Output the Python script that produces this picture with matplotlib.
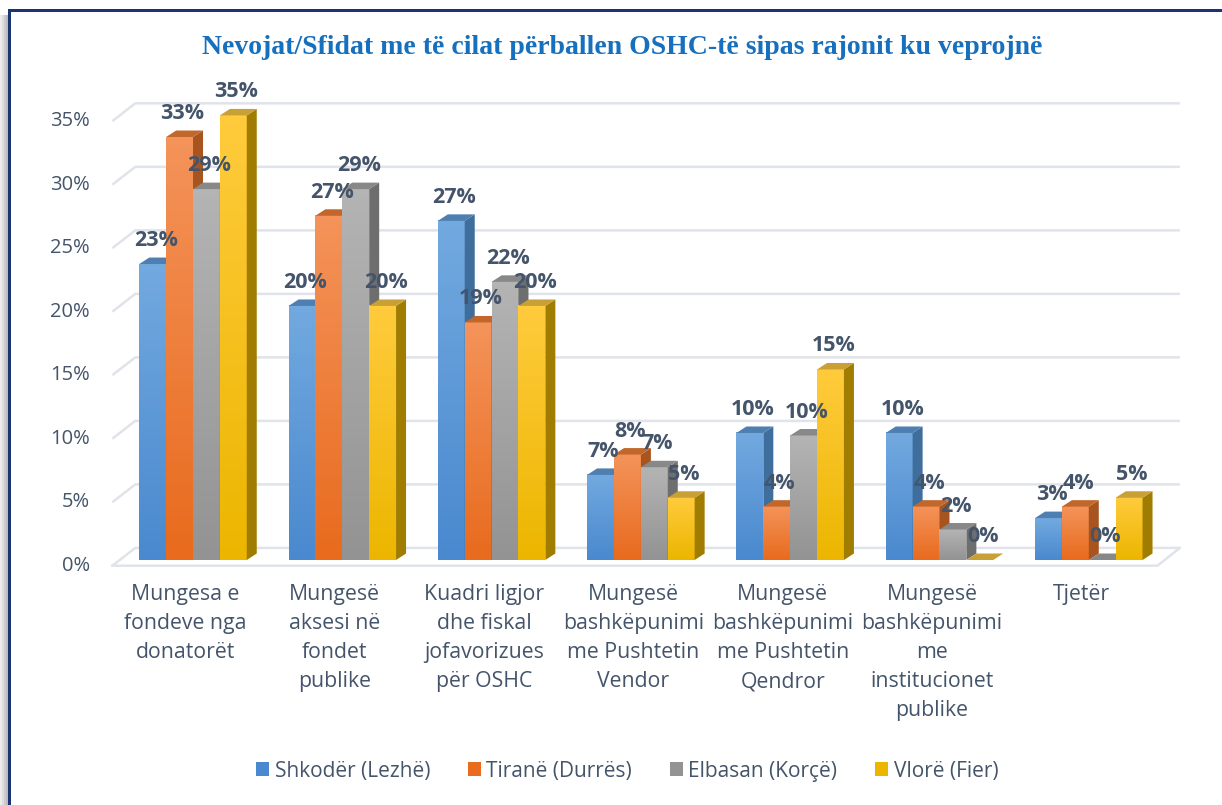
import numpy as np
import matplotlib
matplotlib.use('Agg')
import matplotlib.pyplot as plt
from matplotlib.patches import Polygon, Rectangle, Patch
from matplotlib.colors import LinearSegmentedColormap

# dane
categories = ['Mungesa e\nfondeve nga\ndonatorët',
              'Mungesë\naksesi në\nfondet\npublike',
              'Kuadri ligjor\ndhe fiskal\njofavorizues\npër OSHC',
              'Mungesë\nbashkëpunimi\nme Pushtetin\nVendor',
              'Mungesë\nbashkëpunimi\nme Pushtetin\nQendror',
              'Mungesë\nbashkëpunimi\nme\ninstitucionet\npublike',
              'Tjetër']
series = ['Shkodër (Lezhë)', 'Tiranë (Durrës)', 'Elbasan (Korçë)', 'Vlorë (Fier)']
shkoder = [23.3, 20.0, 26.7, 6.7, 10.0, 10.0, 3.3]
tirane = [33.3, 27.1, 18.7, 8.3, 4.2, 4.2, 4.2]
elbasan = [29.2, 29.2, 21.9, 7.3, 9.8, 2.4, 0.0]
vlore = [35.0, 20.0, 20.0, 4.9, 15.0, 0.0, 4.9]
yticks = [0, 5, 10, 15, 20, 25, 30, 35]

values = [shkoder, tirane, elbasan, vlore]
# colors: (top of gradient, bottom of gradient, side, top face)
cols = [('#72A9DF', '#4A89CF', '#3F6D9C', '#4E7FB0'),
        ('#F4935A', '#E86B1E', '#A8541F', '#C1672C'),
        ('#B4B4B4', '#939393', '#6E6E6E', '#888888'),
        ('#FFCB3C', '#ECB600', '#A07D00', '#C9A035')]
txt_col = '#44546A'
grid_col = '#E0E3EA'

plt.rcParams['font.family'] = ['Open Sans', 'DejaVu Sans']

W, H = 1222, 805
fig = plt.figure(figsize=(W / 100, H / 100), dpi=100)
ax = fig.add_axes([100 / W, 225 / H, 1090 / W, 490 / H])
ax.set_xlim(-0.623, 6.678)
ax.set_ylim(-1.575, 37.0)
ax.axis('off')

# 3d offsets
bw = 0.18
ddx, ddy = 0.067, 0.51
gx0, gx1 = -0.54, -0.387
gxr0, gxr1 = 6.46, 6.61
gf, gb = -0.45, 0.95

for v in yticks:
    ax.plot([gx0, gx1, gxr1], [v + gf, v + gb, v + gb], color=grid_col, lw=1.8,
            solid_capstyle='butt', zorder=1)
    ax.text(-0.69, v + gf, '%d%%' % v, ha='right', va='center', fontsize=14.5,
            color=txt_col)
ax.plot([gx0, gxr0, gxr1], [gf, gf, gb], color=grid_col, lw=1.8, zorder=1)

x = np.arange(len(categories))
z = 2
for j, vals in enumerate(values):
    c_top, c_bot, c_side, c_cap = cols[j]
    cmap = LinearSegmentedColormap.from_list('g%d' % j, [c_bot, c_top])
    xs = x - 2 * bw + j * bw
    bars = ax.bar(xs, vals, width=bw, align='edge', color=c_bot, zorder=z + j * 3)
    for b in bars:
        x0, w, h = b.get_x(), b.get_width(), b.get_height()
        zz = b.get_zorder()
        if h > 0:
            ax.imshow(np.linspace(0, 1, 64).reshape(-1, 1), cmap=cmap, origin='lower',
                      extent=(x0, x0 + w, 0, h), aspect='auto', zorder=zz + 0.1)
        side = Polygon([(x0 + w, 0), (x0 + w + ddx, ddy), (x0 + w + ddx, h + ddy),
                        (x0 + w, h)], closed=True, fc=c_side, ec='none', zorder=zz + 0.2)
        cap = Polygon([(x0, h), (x0 + ddx, h + ddy), (x0 + w + ddx, h + ddy),
                       (x0 + w, h)], closed=True, fc=c_cap, ec='none', zorder=zz + 0.3)
        ax.add_patch(side)
        ax.add_patch(cap)
        ax.text(x0 + w / 2 + 0.02, h + 1.85, '%d%%' % round(h), ha='center', va='center',
                fontsize=15.5, fontweight='bold', color=txt_col, zorder=50)

for i, lab in enumerate(categories):
    ax.text(i - 0.05, -1.9, lab, ha='center', va='top', fontsize=15.3, color=txt_col,
            linespacing=1.5)

ax.set_xlim(-0.623, 6.678)
ax.set_ylim(-1.575, 37.0)

fig.text(622 / W, 1 - 48 / H, 'Nevojat/Sfidat me të cilat përballen OSHC-të sipas rajonit ku veprojnë',
         ha='center', va='center', fontsize=20, fontweight='bold', color='#1670BE',
         family='Liberation Serif')

handles = [Patch(facecolor=cols[j][1], edgecolor='none') for j in range(4)]
fig.legend(handles, series, loc='center', bbox_to_anchor=(627 / W, 1 - 771 / H),
           ncol=4, frameon=False, fontsize=15, handlelength=0.65, handleheight=0.65,
           handletextpad=0.25, columnspacing=1.8, labelcolor=txt_col)

# ramka
for k, g in enumerate(['#EDEDED', '#DDDDDD', '#CCCCCC', '#BDBDBD']):
    fig.patches.append(Rectangle((k * 2 / W, 0), 2 / W, 1 - 15 / H, transform=fig.transFigure,
                                 fc=g, ec='none'))
fig.patches.append(Rectangle((8 / W, 0), 3 / W, 1 - 9 / H, transform=fig.transFigure,
                             fc='#1B3474', ec='none'))
fig.patches.append(Rectangle((8 / W, 1 - 12 / H), 1 - 8 / W, 3 / H, transform=fig.transFigure,
                             fc='#1B3474', ec='none'))

fig.savefig('out.png', dpi=100)
